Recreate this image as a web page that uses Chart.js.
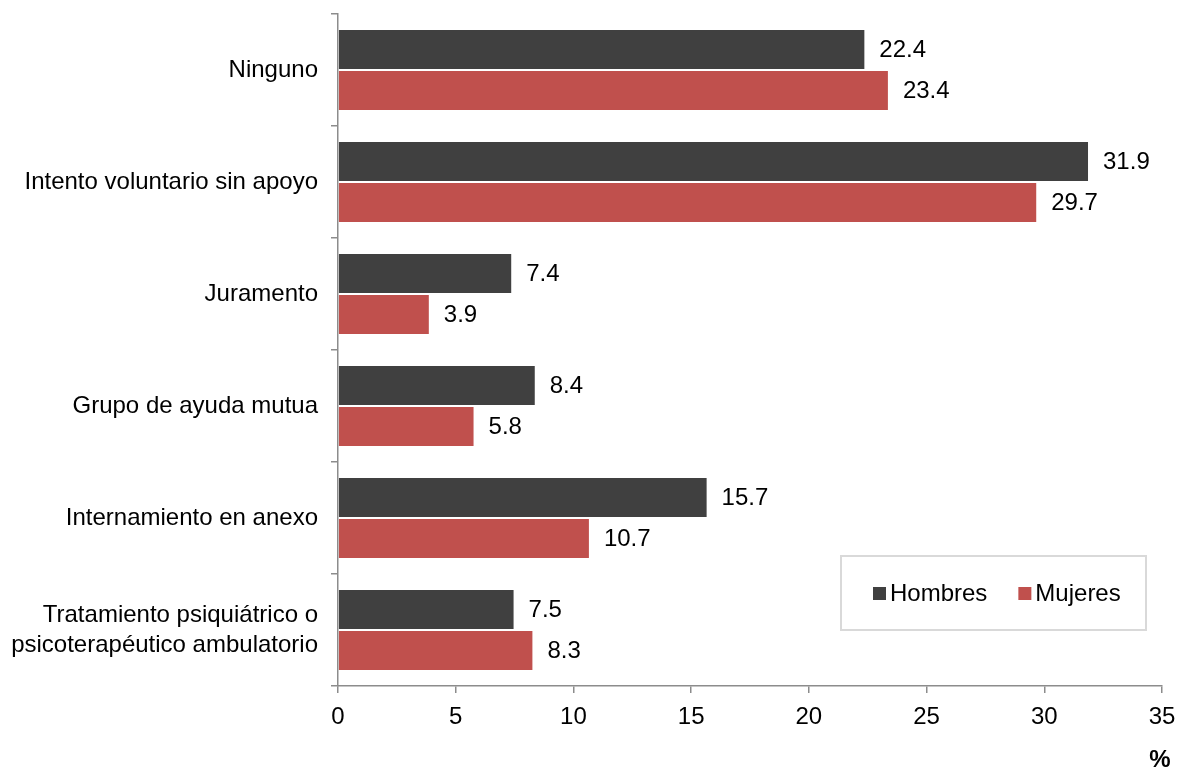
<!DOCTYPE html>
<html>
<head>
<meta charset="utf-8">
<script src="https://cdn.jsdelivr.net/npm/chart.js@4"></script>
<style>
  body { margin: 0; background: #fff; }
</style>
</head>
<body>
<canvas id="chart" width="1183" height="769"></canvas>
<script>
  // data
  const categories = [
    'Ninguno',
    'Intento voluntario sin apoyo',
    'Juramento',
    'Grupo de ayuda mutua',
    'Internamiento en anexo',
    ['Tratamiento psiquiátrico o', 'psicoterapéutico ambulatorio']
  ];
  const hombres = [22.4, 31.9, 7.4, 8.4, 15.7, 7.5];
  const mujeres = [23.4, 29.7, 3.9, 5.8, 10.7, 8.3];
  const xTicks = [0, 5, 10, 15, 20, 25, 30, 35];

  const FONT = "'Liberation Sans', Arial, sans-serif";
  const axisGray = '#8c8c8c';

  // value labels at the end of each bar
  const valueLabels = {
    id: 'valueLabels',
    afterDatasetsDraw(chart) {
      const ctx = chart.ctx;
      ctx.save();
      ctx.font = '24px ' + FONT;
      ctx.fillStyle = '#000';
      ctx.textAlign = 'left';
      ctx.textBaseline = 'middle';
      chart.data.datasets.forEach((ds, i) => {
        chart.getDatasetMeta(i).data.forEach((bar, j) => {
          ctx.fillText(ds.data[j].toFixed(1), bar.x + 14, bar.y + 1);
        });
      });
      ctx.restore();
    }
  };

  // boxed legend inside the plot + the "%" unit
  const boxLegend = {
    id: 'boxLegend',
    afterDraw(chart) {
      const ctx = chart.ctx;
      ctx.save();
      ctx.strokeStyle = '#d9d9d9';
      ctx.lineWidth = 2;
      ctx.strokeRect(841, 556, 305, 74);
      ctx.font = '24px ' + FONT;
      ctx.textBaseline = 'middle';
      let x = 873;
      const y = 593;
      chart.data.datasets.forEach(ds => {
        ctx.fillStyle = ds.backgroundColor;
        ctx.fillRect(x, y - 6, 13, 13);
        x += 17;
        ctx.fillStyle = '#000';
        ctx.fillText(ds.label, x, y + 1);
        x += ctx.measureText(ds.label).width + 31;
      });
      ctx.font = 'bold 24px ' + FONT;
      ctx.textAlign = 'center';
      ctx.fillText('%', 1160, 760);
      ctx.restore();
    }
  };

  new Chart(document.getElementById('chart'), {
    type: 'bar',
    data: {
      labels: categories,
      datasets: [{
        label: 'Hombres',
        data: hombres,
        backgroundColor: '#404040',
        borderColor: '#fff',
        borderWidth: 1,
        borderSkipped: 'start'
      }, {
        label: 'Mujeres',
        data: mujeres,
        backgroundColor: '#c0504d',
        borderColor: '#fff',
        borderWidth: 1,
        borderSkipped: 'start'
      }]
    },
    options: {
      indexAxis: 'y',
      responsive: false,
      animation: false,
      layout: { padding: { top: 14, right: 21, left: 0, bottom: 0 } },
      datasets: { bar: { categoryPercentage: 0.73, barPercentage: 1 } },
      plugins: {
        legend: { display: false },
        tooltip: { enabled: false }
      },
      scales: {
        x: {
          min: 0,
          max: 35,
          afterBuildTicks: s => { s.ticks = xTicks.map(v => ({ value: v })); },
          afterFit: s => { s.height = 83; s.paddingLeft = 0; s.paddingRight = 0; },
          grid: { drawOnChartArea: false, color: axisGray, tickLength: 7, lineWidth: 1.5 },
          border: { color: axisGray, width: 1.5 },
          ticks: { color: '#000', font: { size: 24, family: FONT }, padding: 10, maxRotation: 0 }
        },
        y: {
          offset: true,
          afterFit: s => { s.width = 338; s.paddingTop = 0; s.paddingBottom = 0; },
          grid: { offset: true, drawOnChartArea: false, color: axisGray, tickLength: 7, lineWidth: 1.5 },
          border: { color: axisGray, width: 1.5 },
          ticks: { color: '#000', font: { size: 24, family: FONT, lineHeight: 1.25 }, padding: 13 }
        }
      }
    },
    plugins: [valueLabels, boxLegend]
  });
</script>
</body>
</html>
